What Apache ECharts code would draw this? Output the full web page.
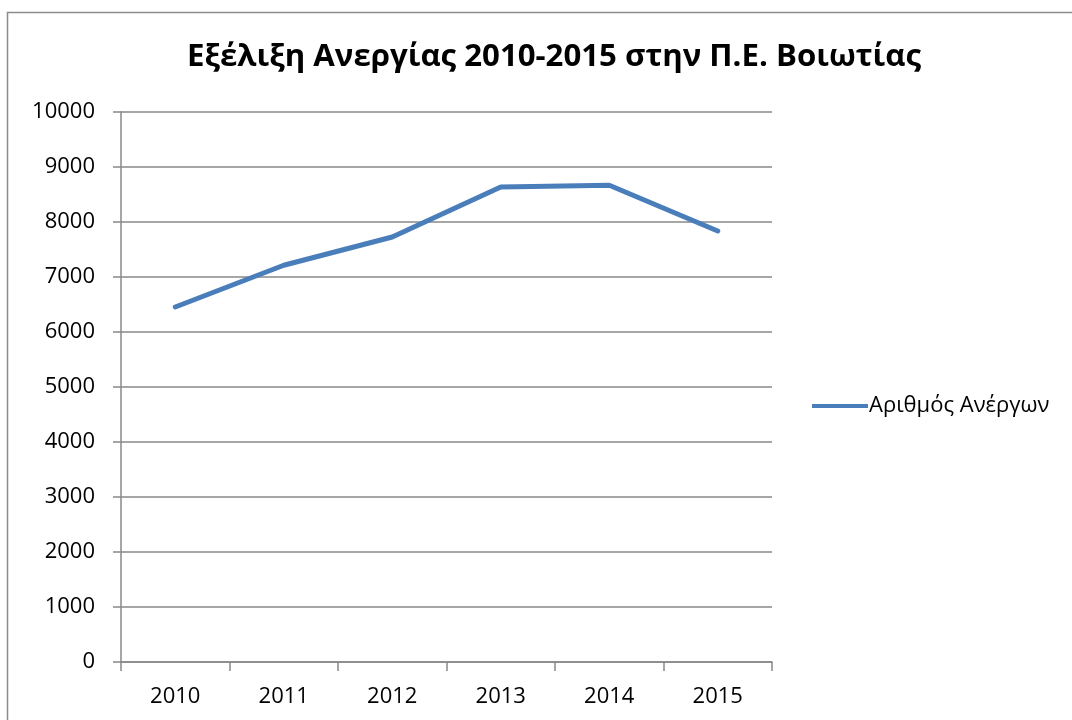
<!DOCTYPE html>
<html>
<head>
<meta charset="utf-8">
<script src="https://cdn.jsdelivr.net/npm/echarts@6/dist/echarts.min.js"></script>
<style>
html,body{margin:0;padding:0;background:#fff;}
#c{width:1072px;height:720px;}
</style>
</head>
<body>
<div id="c"></div>
<script>
var categories = ['2010', '2011', '2012', '2013', '2014', '2015'];
var unemployed = [6455, 7213, 7727, 8636, 8667, 7836];
var seriesName = 'Αριθμός Ανέργων';
var titleText = 'Εξέλιξη Ανεργίας 2010-2015 στην Π.Ε. Βοιωτίας';

var chart = echarts.init(document.getElementById('c'), null, {renderer: 'canvas'});
var font = '"Open Sans", sans-serif';
chart.setOption({
  backgroundColor: '#fff',
  animation: false,
  graphic: [{
    type: 'rect',
    shape: {x: 7.5, y: 12.5, width: 1100, height: 800},
    style: {fill: 'none', stroke: '#8c8c8c', lineWidth: 1.5},
    silent: true
  }],
  title: {
    text: titleText,
    left: 549, top: 37, textAlign: 'center',
    textStyle: {fontFamily: font, fontWeight: 'bold', fontSize: 31.2, color: '#000'}
  },
  legend: {
    orient: 'vertical',
    left: 807, top: 390,
    itemWidth: 56, itemHeight: 4, itemGap: 10,
    textStyle: {fontFamily: font, fontSize: 22, color: '#000', padding: [0,0,0,-4]},
    data: [{name: seriesName, icon: 'path://M0,0 L56,0 L56,4 L0,4 Z'}]
  },
  grid: {left: 121, top: 112, right: 300, bottom: 58, containLabel: false},
  xAxis: {
    type: 'category',
    data: categories,
    boundaryGap: true,
    axisLine: {lineStyle: {color: '#888', width: 1.5}},
    axisTick: {show: true, interval: 0, length: 9, lineStyle: {color: '#888', width: 1.5}},
    axisLabel: {margin: 24, fontFamily: font, fontSize: 22, color: '#000'},
    splitLine: {show: false}
  },
  yAxis: {
    type: 'value',
    min: 0, max: 10000, interval: 1000,
    axisLine: {show: true, lineStyle: {color: '#888', width: 1.5}},
    axisTick: {show: true, length: 8, lineStyle: {color: '#888', width: 1.5}},
    axisLabel: {margin: 26, fontFamily: font, fontSize: 22, color: '#000', formatter: function (v) { return String(v); }},
    splitLine: {lineStyle: {color: '#888', width: 1.5}}
  },
  series: [{
    name: seriesName,
    type: 'line',
    data: unemployed,
    symbol: 'none',
    lineStyle: {color: '#4a7ebb', width: 5, cap: 'round', join: 'round'},
    itemStyle: {color: '#4a7ebb'}
  }]
});
</script>
</body>
</html>
